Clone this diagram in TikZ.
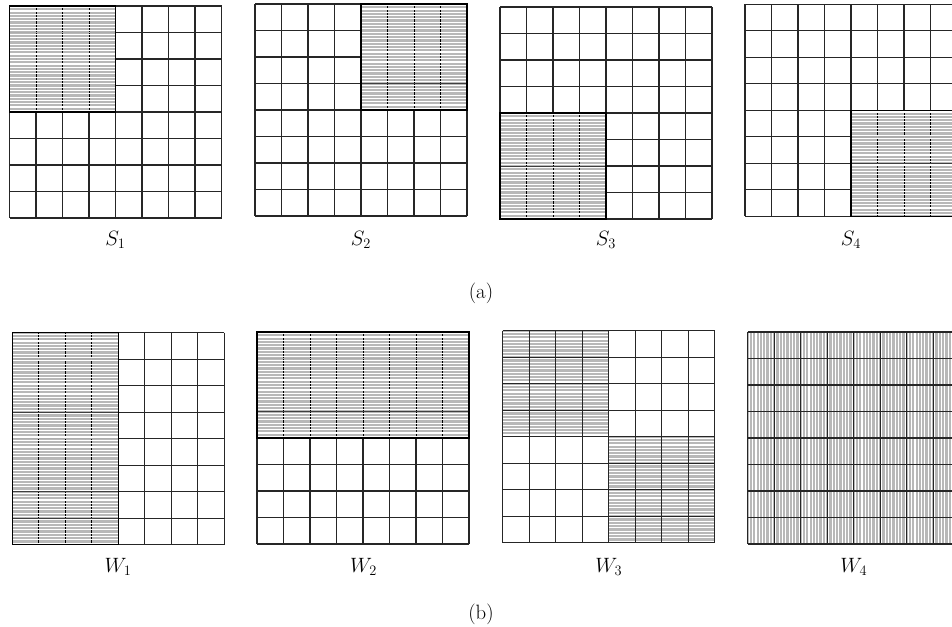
\documentclass[tikz,border=0pt]{standalone}
\begin{document}
\newcommand\fullgrid{%
  \foreach \i in {0,...,8}{\draw[gridline] (\i,0) -- (\i,8); \draw[gridline] (0,\i) -- (8,\i);}}
\newcommand\stripesH[4]{%
  \fill[shadefill] (#1,#2) rectangle (#3,#4);
  \begin{scope}
    \clip (#1,#2) rectangle (#3,#4);
    \foreach \k in {0,...,64}{\draw[stripe] (#1,{#2+(\k+0.5)*0.125}) -- (#3,{#2+(\k+0.5)*0.125});}
  \end{scope}}
\newcommand\hshade[5]{%
  \fill[shadefill] (#1,#2) rectangle (#3,#4);
  \foreach \v in {#5}{\draw[innerv] (\v,#2) -- (\v,#4);}
  \begin{scope}
    \clip (#1,#2) rectangle (#3,#4);
    \foreach \k in {0,...,64}{\draw[stripe] (#1,{#2+(\k+0.5)*0.125}) -- (#3,{#2+(\k+0.5)*0.125});}
  \end{scope}}
\newcommand\hborder[4]{\draw[shadeborder] (#1,#2) rectangle (#3,#4);}
\begin{tikzpicture}[x=1pt,y=-1pt,
  gridline/.style={draw=black!85,line width=1.2pt},
  shadefill/.style={fill=black!28},
  stripe/.style={draw=white,line width=1.1pt},
  innerv/.style={draw=black,line width=1pt},
  shadeborder/.style={draw=black,line width=1.3pt},
  darkh/.style={draw=black!75,line width=1pt},
  fainth/.style={draw=black!32,line width=1.5pt},
  lab/.style={font=\huge,inner sep=0pt},
  panel/.style={x=26.5pt,y=-26.5pt}]
\useasboundingbox (0,0) rectangle (952,626);
% ---------- S1
\begin{scope}[xshift=9.5pt,yshift=-6pt,panel]
  \fullgrid
  \hshade{0}{0}{4}{4}{1,2,3}
  \draw[fainth] (0,1) -- (4,1);
  \hborder{0}{0}{4}{4}
\end{scope}
% ---------- S2
\begin{scope}[xshift=255pt,yshift=-4pt,panel]
  \fullgrid
  \hshade{4}{0}{8}{4}{5,6,7}
  \draw[darkh] (4,3) -- (8,3);
  \hborder{4}{0}{8}{4}
\end{scope}
% ---------- S3
\begin{scope}[xshift=500pt,yshift=-7pt,panel]
  \fullgrid
  \hshade{0}{4}{4}{8}{1,2,3}
  \draw[darkh] (0,6) -- (4,6);
  \hborder{0}{4}{4}{8}
\end{scope}
% ---------- S4
\begin{scope}[xshift=745pt,yshift=-4.3pt,panel]
  \fullgrid
  \hshade{4}{4}{8}{8}{5,6,7}
  \draw[fainth] (4,5) -- (8,5);
  \draw[darkh] (4,6) -- (8,6);
  \hborder{4}{4}{8}{8}
\end{scope}
% ---------- W1
\begin{scope}[xshift=12.3pt,yshift=-332.7pt,panel]
  \fullgrid
  \hshade{0}{0}{4}{8}{1,2,3}
  \draw[fainth] (0,1) -- (4,1);
  \draw[fainth] (0,4) -- (4,4);
  \draw[darkh] (0,3) -- (4,3);
  \draw[darkh] (0,6) -- (4,6);
  \draw[darkh] (0,7) -- (4,7);
  \hborder{0}{0}{4}{8}
\end{scope}
% ---------- W2
\begin{scope}[xshift=257pt,yshift=-332pt,panel]
  \fullgrid
  \hshade{0}{0}{8}{4}{1,2,3,4,5,6,7}
  \draw[fainth] (0,1) -- (8,1);
  \draw[darkh] (0,3) -- (8,3);
  \hborder{0}{0}{8}{4}
\end{scope}
% ---------- W3
\begin{scope}[xshift=502.7pt,yshift=-330.7pt,panel]
  \stripesH{0}{0}{4}{4}
  \stripesH{4}{4}{8}{8}
  \fullgrid
\end{scope}
% ---------- W4
\begin{scope}[xshift=747.7pt,yshift=-332pt,panel]
  \fill[shadefill] (0,0) rectangle (8,8);
  \begin{scope}
    \clip (0,0) rectangle (8,8);
    \foreach \k in {0,...,64}{\draw[stripe] ({(\k+0.5)*0.125},0) -- ({(\k+0.5)*0.125},8);}
  \end{scope}
  \fullgrid
\end{scope}
% ---------- labels
\node[lab] (s1) at (115.5,240) {$S_1$};
\node[lab] (s2) at (361,240) {$S_2$};
\node[lab] (s3) at (606,240) {$S_3$};
\node[lab] (s4) at (851,240) {$S_4$};
\node[lab] (la) at (481,293) {(a)};
\node[lab] (w1) at (118,567) {$W_1$};
\node[lab] (w2) at (363.5,567) {$W_2$};
\node[lab] (w3) at (608.7,567) {$W_3$};
\node[lab] (w4) at (853.7,567) {$W_4$};
\node[lab] (lb) at (481,614) {(b)};
\end{tikzpicture}
\end{document}
